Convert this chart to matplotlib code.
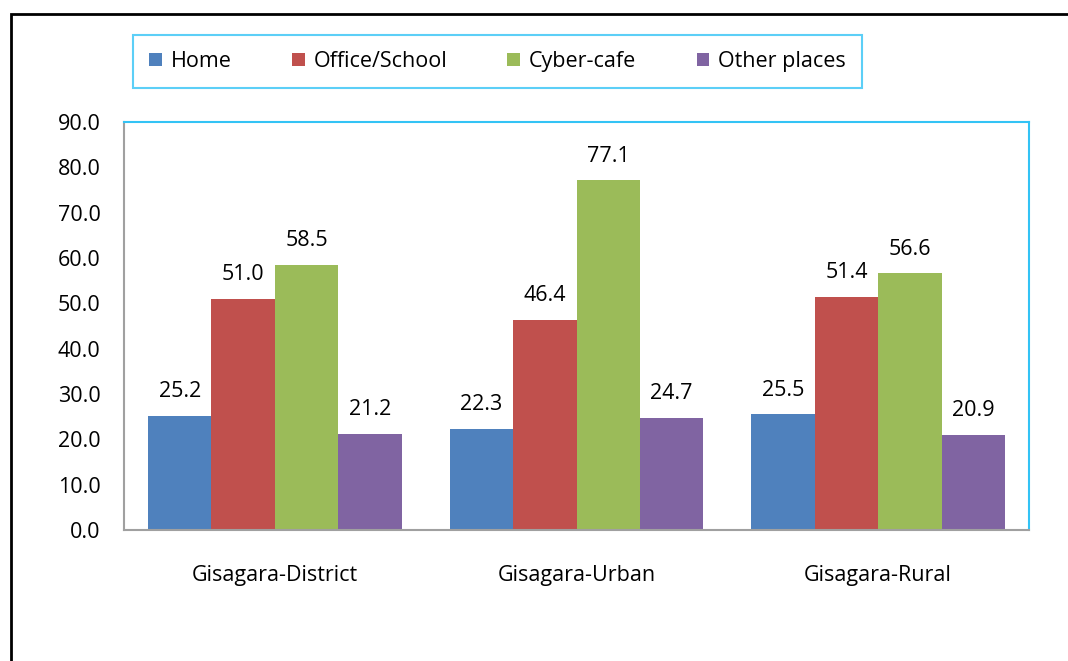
import numpy as np
import matplotlib.pyplot as plt
from matplotlib.patches import Rectangle

categories = ["Gisagara-District", "Gisagara-Urban", "Gisagara-Rural"]
series_names = ["Home", "Office/School", "Cyber-cafe", "Other places"]
home = [25.2, 22.3, 25.5]
office = [51.0, 46.4, 51.4]
cyber = [58.5, 77.1, 56.6]
other = [21.2, 24.7, 20.9]
colors = ["#4F81BD", "#C0504D", "#9BBB59", "#8064A2"]

plt.rcParams['font.family'] = ['Open Sans', 'DejaVu Sans']
fs = 15.5

fig = plt.figure(figsize=(10.68, 6.61), dpi=100)
W, H = 1068, 661
ax = fig.add_axes([124 / W, 1 - 530 / H, (1029 - 124) / W, (530 - 122) / H])

# outer frame (cut off at right and bottom like the source)
fig.patches.append(Rectangle((11 / W, 1 - 14 / H - 2), 2, 2, transform=fig.transFigure,
                             fill=False, edgecolor="black", linewidth=2))

x = np.arange(len(categories))
bw = 0.21
for i, (vals, name) in enumerate(zip([home, office, cyber, other], series_names)):
    pos = x + (i - 1.5) * bw
    bars = ax.bar(pos, vals, bw, color=colors[i], label=name)
    for b, v in zip(bars, vals):
        ax.annotate(f"{v:.1f}", (b.get_x() + b.get_width() / 2, v), xytext=(0, 10),
                    textcoords="offset points", ha="center", va="bottom", fontsize=fs)

ax.set_xlim(-0.5, 2.5)
ax.set_ylim(0, 90)
ax.set_yticks(np.arange(0, 91, 10))
ax.set_yticklabels([f"{t:.1f}" for t in np.arange(0, 91, 10)], fontsize=fs)
ax.set_xticks(x)
ax.set_xticklabels(categories, fontsize=fs)
ax.tick_params(axis="both", length=0)
ax.tick_params(axis="y", pad=17)
ax.tick_params(axis="x", pad=25)
ax.spines["left"].set_color("#A0A0A0")
ax.spines["bottom"].set_color("#A0A0A0")
ax.spines["top"].set_color("#33C3F5")
ax.spines["right"].set_color("#33C3F5")
for s in ax.spines.values():
    s.set_linewidth(1.5)

# legend box stretched to the same span as the original
leg = fig.legend(loc="upper left", ncol=4, mode="expand",
                 bbox_to_anchor=(133 / W, 1 - 86 / H, 729 / W, 51 / H),
                 fontsize=fs, frameon=True, fancybox=False, handlelength=0.6,
                 handleheight=0.6, handletextpad=0.4,
                 borderpad=0.75, borderaxespad=0)
leg.get_frame().set_edgecolor("#33C3F5")
leg.get_frame().set_linewidth(1.5)

fig.savefig("out.png", dpi=100)
